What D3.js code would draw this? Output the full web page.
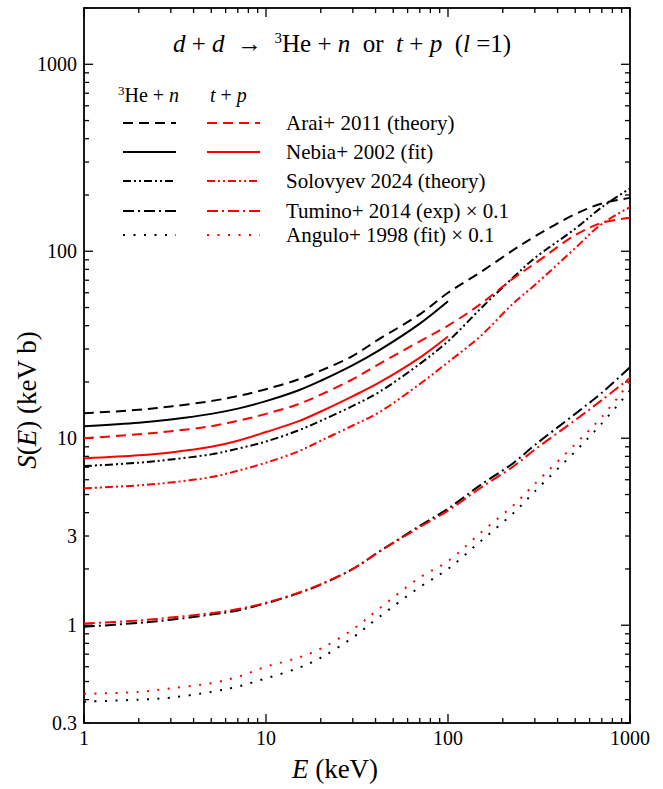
<!DOCTYPE html>
<html>
<head>
<meta charset="utf-8">
<script src="https://cdn.jsdelivr.net/npm/d3@7"></script>
<style>
  body { margin: 0; background: #fff; }
</style>
</head>
<body>
<div class="svg-wrap"></div>
<script>
const width = 663;
const height = 789;
const serif = "'Liberation Serif', 'Times New Roman', 'DejaVu Serif', serif";

// energies (keV) the curves are read at
const energies = [1, 2, 3, 5, 7, 10, 15, 20, 30, 42, 70, 100, 150, 230, 300, 500, 700, 1000];
const nebiaEnergies = [1, 2, 3, 5, 7, 10, 15, 20, 30, 42, 70, 100];

// S(E) in keV b, 3He + n channel
const araiHe = [13.6, 14.2, 14.8, 15.8, 16.8, 18.3, 20.6, 23, 27.6, 34, 46, 60, 77, 102, 120, 158, 180, 193];
const nebiaHe = [11.6, 12.1, 12.6, 13.5, 14.4, 15.8, 18, 20.3, 24.6, 29.6, 41, 54];
const solovyevHe = [7.1, 7.4, 7.7, 8.2, 8.8, 9.6, 11.0, 12.4, 14.9, 17.7, 25, 33, 49, 73, 92, 132, 172, 217];
const tuminoHe = [0.98, 1.03, 1.07, 1.14, 1.2, 1.31, 1.48, 1.65, 2.0, 2.48, 3.4, 4.2, 5.6, 7.4, 9.2, 13.5, 17.5, 24];
const anguloHe = [0.39, 0.4, 0.41, 0.44, 0.47, 0.52, 0.59, 0.67, 0.86, 1.11, 1.6, 2.0, 2.8, 4.0, 5.2, 8.5, 12, 18];

// S(E) in keV b, t + p channel
const araiT = [10.0, 10.5, 10.9, 11.6, 12.4, 13.5, 15.2, 17.1, 20.7, 25, 33, 40, 52, 72, 86, 122, 142, 151];
const nebiaT = [7.8, 8.1, 8.4, 9.0, 9.7, 10.8, 12.3, 13.9, 16.8, 19.9, 27, 35];
const solovyevT = [5.4, 5.6, 5.8, 6.2, 6.7, 7.4, 8.5, 9.7, 11.7, 13.8, 19.5, 25.5, 35, 53, 66, 104, 140, 172];
const tuminoT = [1.02, 1.06, 1.1, 1.16, 1.22, 1.32, 1.49, 1.66, 2.0, 2.48, 3.35, 4.1, 5.4, 7.1, 8.7, 12.5, 16, 21];
const anguloT = [0.43, 0.44, 0.46, 0.49, 0.53, 0.6, 0.67, 0.75, 0.95, 1.23, 1.8, 2.2, 3.1, 4.4, 5.7, 9.3, 13, 20];

const legendLabels = ["Arai+ 2011 (theory)", "Nebia+ 2002 (fit)", "Solovyev 2024 (theory)",
  "Tumino+ 2014 (exp) \u00d7 0.1", "Angulo+ 1998 (fit) \u00d7 0.1"];
const dashes = ["10,6", null, "8,3,2,3,2,3", "11,4,2,4", "2,8.5"];

const xTicks = [1, 10, 100, 1000];
const yTicks = [0.3, 1, 3, 10, 100, 1000];

let svg = d3.select(".svg-wrap")
  .append("svg")
  .attr("width", width)
  .attr("height", height)
  .attr("font-family", serif)
  .style("font-family", serif);

const x = d3.scaleLog().domain([1, 1000]).range([84, 630]);
const y = d3.scaleLog().domain([0.3, 2000]).range([723, 8]);

// minor / major ticks, all inward, on four sides
function minorValues(lo, hi) {
  let out = [];
  for (let dec = 0.1; dec <= 1000; dec *= 10) {
    for (let k = 1; k <= 9; k++) {
      let v = +(k * dec).toPrecision(3);
      if (v >= lo && v <= hi) out.push(v);
    }
  }
  return out;
}

const xMinor = minorValues(1, 1000);
const yMinor = minorValues(0.3, 2000);
const isMajor = v => [0.1, 1, 10, 100, 1000].includes(v);

let ticks = svg.append("g").attr("stroke", "#000").attr("stroke-width", 1.3);
xMinor.forEach(v => {
  let len = isMajor(v) ? 9 : 5;
  ticks.append("line").attr("x1", x(v)).attr("x2", x(v)).attr("y1", y.range()[0]).attr("y2", y.range()[0] - len);
  ticks.append("line").attr("x1", x(v)).attr("x2", x(v)).attr("y1", y.range()[1]).attr("y2", y.range()[1] + len);
});
yMinor.forEach(v => {
  let len = isMajor(v) ? 9 : 5;
  ticks.append("line").attr("y1", y(v)).attr("y2", y(v)).attr("x1", x.range()[0]).attr("x2", x.range()[0] + len);
  ticks.append("line").attr("y1", y(v)).attr("y2", y(v)).attr("x1", x.range()[1]).attr("x2", x.range()[1] - len);
});

svg.append("rect")
  .attr("x", x.range()[0])
  .attr("y", y.range()[1])
  .attr("width", x.range()[1] - x.range()[0])
  .attr("height", y.range()[0] - y.range()[1])
  .attr("fill", "none")
  .attr("stroke", "#000")
  .attr("stroke-width", 1.8);

// tick labels
svg.append("g").selectAll("text").data(xTicks).enter().append("text")
  .attr("x", d => x(d))
  .attr("y", y.range()[0] + 22)
  .attr("text-anchor", "middle")
  .style("font-size", "20px")
  .text(d => d);

svg.append("g").selectAll("text").data(yTicks).enter().append("text")
  .attr("x", x.range()[0] - 7)
  .attr("y", d => y(d) + 7)
  .attr("text-anchor", "end")
  .style("font-size", "20px")
  .text(d => d);

// axis titles
let xt = svg.append("text")
  .attr("x", 335)
  .attr("y", 778)
  .attr("text-anchor", "middle")
  .style("font-size", "27px");
xt.append("tspan").style("font-style", "italic").text("E");
xt.append("tspan").text(" (keV)");

let yt = svg.append("text")
  .attr("transform", "translate(36,400) rotate(-90)")
  .attr("text-anchor", "middle")
  .style("font-size", "27px");
yt.append("tspan").style("font-style", "italic").text("S");
yt.append("tspan").text("(");
yt.append("tspan").style("font-style", "italic").text("E");
yt.append("tspan").text(") (keV b)");

// title
let title = svg.append("text")
  .attr("x", 342)
  .attr("y", 52)
  .attr("text-anchor", "middle")
  .attr("xml:space", "preserve")
  .style("white-space", "pre")
  .style("font-size", "25px");
title.append("tspan").style("font-style", "italic").text("d");
title.append("tspan").text(" + ");
title.append("tspan").style("font-style", "italic").text("d");
title.append("tspan").text("  \u2192  ");
title.append("tspan").attr("dy", -9).style("font-size", "15px").text("3");
title.append("tspan").attr("dy", 9).text("He + ");
title.append("tspan").style("font-style", "italic").text("n");
title.append("tspan").text("  or  ");
title.append("tspan").style("font-style", "italic").text("t");
title.append("tspan").text(" + ");
title.append("tspan").style("font-style", "italic").text("p");
title.append("tspan").text("  (");
title.append("tspan").style("font-style", "italic").text("l");
title.append("tspan").text(" =1)");

// curves
const line = d3.line()
  .x(d => x(d[0]))
  .y(d => y(d[1]))
  .curve(d3.curveCatmullRom.alpha(0.5));

const series = [
  { e: energies, v: araiHe, color: "#000", dash: dashes[0] },
  { e: nebiaEnergies, v: nebiaHe, color: "#000", dash: dashes[1] },
  { e: energies, v: solovyevHe, color: "#000", dash: dashes[2] },
  { e: energies, v: tuminoHe, color: "#000", dash: dashes[3] },
  { e: energies, v: anguloHe, color: "#000", dash: dashes[4] },
  { e: energies, v: araiT, color: "#ff0000", dash: dashes[0] },
  { e: nebiaEnergies, v: nebiaT, color: "#ff0000", dash: dashes[1] },
  { e: energies, v: solovyevT, color: "#ff0000", dash: dashes[2] },
  { e: energies, v: tuminoT, color: "#ff0000", dash: dashes[3] },
  { e: energies, v: anguloT, color: "#ff0000", dash: dashes[4] }
];

svg.append("g").selectAll("path").data(series).enter().append("path")
  .attr("d", s => line(s.e.map((d, i) => [d, s.v[i]])))
  .attr("fill", "none")
  .attr("stroke", s => s.color)
  .attr("stroke-width", 2)
  .attr("stroke-dasharray", s => s.dash);

// legend
let legend = svg.append("g");
let h1 = legend.append("text").attr("x", 118).attr("y", 102).style("font-size", "20px");
h1.append("tspan").attr("dy", -7).style("font-size", "13px").text("3");
h1.append("tspan").attr("dy", 7).text("He + ");
h1.append("tspan").style("font-style", "italic").text("n");
let h2 = legend.append("text").attr("x", 210).attr("y", 102).style("font-size", "20px");
h2.append("tspan").style("font-style", "italic").text("t");
h2.append("tspan").text(" + ");
h2.append("tspan").style("font-style", "italic").text("p");

const legendRows = [123, 152, 181, 211, 235];
legendLabels.forEach((label, i) => {
  let ry = legendRows[i];
  legend.append("line").attr("x1", 123).attr("x2", 176).attr("y1", ry).attr("y2", ry)
    .attr("stroke", "#000").attr("stroke-width", 2).attr("stroke-dasharray", dashes[i]);
  legend.append("line").attr("x1", 207).attr("x2", 260).attr("y1", ry).attr("y2", ry)
    .attr("stroke", "#ff0000").attr("stroke-width", 2).attr("stroke-dasharray", dashes[i]);
  legend.append("text").attr("x", 286).attr("y", ry + 7).style("font-size", "21px").text(label);
});
</script>
</body>
</html>
